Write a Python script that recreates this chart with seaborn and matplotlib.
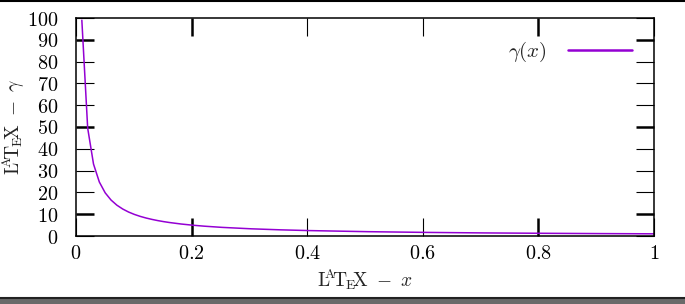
import matplotlib
matplotlib.use("Agg")
import matplotlib.pyplot as plt
import seaborn as sns
import pandas as pd
from matplotlib.ticker import FuncFormatter
from matplotlib.lines import Line2D
from matplotlib.patches import Rectangle

x_vals = [0.0101, 0.0202, 0.0303, 0.0404, 0.0505, 0.0606, 0.0707, 0.0808, 0.0909,
          0.1010, 0.1111, 0.1212, 0.1313, 0.1414, 0.1515, 0.1616, 0.1818, 0.2020,
          0.2222, 0.2525, 0.3030, 0.3535, 0.4040, 0.5051, 0.6061, 0.7071, 0.8081,
          0.9091, 1.0]
gamma_vals = [99.0, 49.5, 33.0, 24.75, 19.8, 16.5, 14.14, 12.38, 11.0,
              9.9, 9.0, 8.25, 7.62, 7.07, 6.6, 6.19, 5.5, 4.95,
              4.5, 3.96, 3.3, 2.83, 2.48, 1.98, 1.65, 1.41, 1.24,
              1.10, 1.0]
x_ticks = [0, 0.2, 0.4, 0.6, 0.8, 1]
y_ticks = [0, 10, 20, 30, 40, 50, 60, 70, 80, 90, 100]
series_label = r"$\gamma(x)$"
x_label = r"$\mathrm{L\!\!^{A}\!T\!_{E}\!X}\ -\ x$"
y_label = r"$\mathrm{L\!\!^{A}\!T\!_{E}\!X}\ -\ \gamma$"

sns.set_style("white")
plt.rcParams["mathtext.fontset"] = "cm"
plt.rcParams["font.family"] = ["DejaVu Serif"]

df = pd.DataFrame({"x": x_vals, "gamma": gamma_vals})

fig = plt.figure(figsize=(6.85, 3.04), dpi=100)
ax = fig.add_axes([76/685, 68/304, (654-76)/685, (236-18)/304])

sns.lineplot(data=df, x="x", y="gamma", ax=ax, color="#9400D3", linewidth=1.1,
             sort=False, label=series_label)

ax.set_xlim(0, 1)
ax.set_ylim(0, 100)
ax.set_xticks(x_ticks)
ax.set_yticks(y_ticks)
fmt = FuncFormatter(lambda v, p: f"${v:g}$")
ax.xaxis.set_major_formatter(fmt)
ax.yaxis.set_major_formatter(fmt)
ax.tick_params(direction="in", length=13, width=0.8, top=True, right=True,
               bottom=True, left=True, labelsize=14.5, color="black",
               labelcolor="black")
ax.tick_params(axis="x", pad=6)
ax.tick_params(axis="y", pad=13)
for s in ax.spines.values():
    s.set_visible(True)
    s.set_color("black")
    s.set_linewidth(1.1)

# a few ticks render heavier in the reference
heavy_x = (0.2, 0.8)
heavy_y = (10, 50, 90)
for i, t in enumerate(ax.xaxis.get_major_ticks()):
    if i < len(x_ticks) and x_ticks[i] in heavy_x:
        t.tick1line.set_markeredgewidth(1.8)
        t.tick2line.set_markeredgewidth(1.8)
for i, t in enumerate(ax.yaxis.get_major_ticks()):
    if i < len(y_ticks) and y_ticks[i] in heavy_y:
        t.tick1line.set_markeredgewidth(1.8)
        t.tick2line.set_markeredgewidth(1.8)

ax.set_xlabel(x_label, fontsize=14, labelpad=3)
ax.set_ylabel(y_label, fontsize=14, labelpad=0)

leg = ax.legend(loc="upper right", frameon=False, markerfirst=False,
                fontsize=15, handlelength=3.1, bbox_to_anchor=(0.995, 0.985),
                handletextpad=1.0)
for h in leg.get_lines():
    h.set_linewidth(1.8)

# screenshot borders
fig.add_artist(Line2D([0, 1], [1 - 1/304, 1 - 1/304], transform=fig.transFigure,
                      color="black", linewidth=1.5))
fig.add_artist(Rectangle((0, 0), 1, 6/304, transform=fig.transFigure,
                         facecolor="#6a6a6a", edgecolor="none"))
fig.add_artist(Line2D([0, 1], [6/304, 6/304], transform=fig.transFigure,
                      color="#222222", linewidth=1.5))

fig.savefig("out.png", dpi=100)
